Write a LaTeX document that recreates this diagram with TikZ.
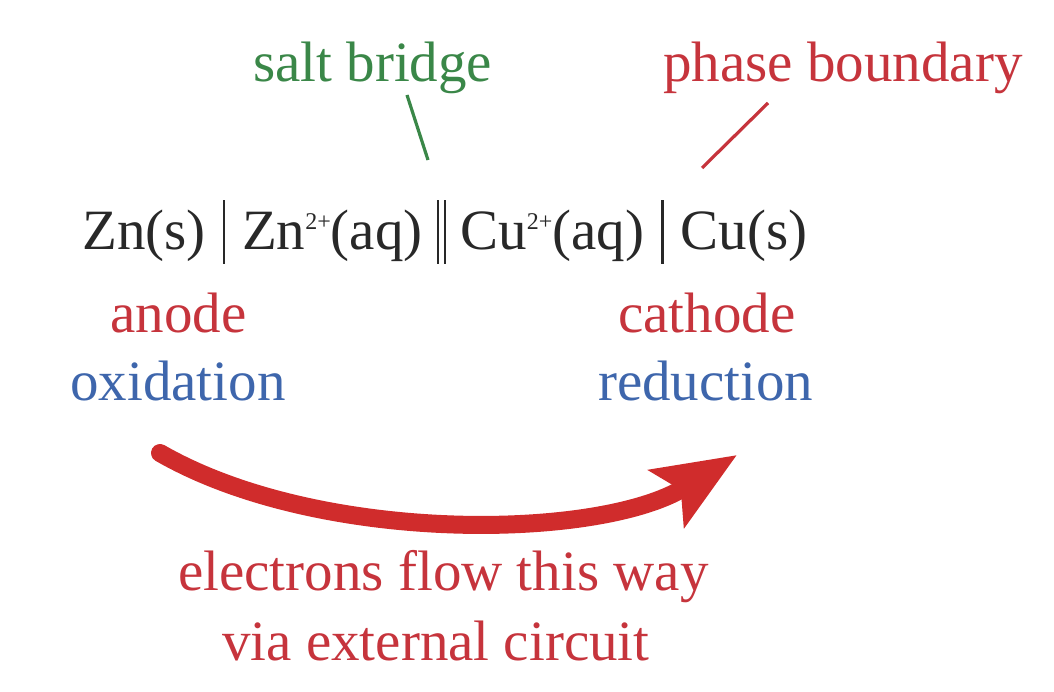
\documentclass[tikz,border=0pt]{standalone}
\usepackage{fontspec}
\setmainfont{Liberation Serif}
\usetikzlibrary{arrows.meta}
\definecolor{tred}{RGB}{198,52,60}
\definecolor{tgreen}{RGB}{58,135,72}
\definecolor{tblue}{RGB}{62,102,172}
\definecolor{ared}{RGB}{208,44,44}
\definecolor{tblack}{RGB}{40,40,40}
\newcommand{\sptwo}{\raisebox{0.36em}{\fontsize{24}{24}\selectfont 2+}}
\newcommand{\pbar}{\hspace{17pt}\rule[-0.24em]{2.4pt}{1.12em}\hspace{17pt}}
\newcommand{\dbar}{\hspace{14pt}\rule[-0.24em]{2.4pt}{1.12em}\hspace{5pt}\rule[-0.24em]{2.4pt}{1.12em}\hspace{14pt}}
\tikzset{
  lbl/.style={anchor=base west, inner sep=0pt, font=\fontsize{57}{68}\selectfont},
  pointer/.style={line width=3.2pt},
  flow/.style={ared, line width=18pt, line cap=round, -{Stealth[length=82pt,width=66pt,inset=16pt]}}
}
\begin{document}
\begin{tikzpicture}[x=1pt,y=-1pt]
\useasboundingbox (0,0) rectangle (1054,692);
\node[lbl, tgreen] (sb) at (253,82) {salt bridge};
\node[lbl, tred] (pb) at (663,82) {phase boundary};
\node[lbl, tblack] (eq) at (82,250) {Zn(s)\pbar Zn\sptwo(aq)\dbar Cu\sptwo(aq)\pbar Cu(s)};
\node[lbl, tred] (an) at (110,332) {anode};
\node[lbl, tblue] (ox) at (70,400) {oxidation};
\node[lbl, tred] (ca) at (618,332) {cathode};
\node[lbl, tblue] (re) at (598,400) {reduction};
\node[lbl, tred] (el) at (178,590) {electrons flow this way};
\node[lbl, tred] (vi) at (222,660) {via external circuit};
\coordinate (sbA) at (407,95);
\coordinate (sbB) at (428,160);
\coordinate (pbA) at (768,103);
\coordinate (pbB) at (702,168);
\coordinate (fs) at (160,453);
\coordinate (fe) at (737,455);
\draw[pointer, tgreen] (sbA) -- (sbB);
\draw[pointer, tred] (pbA) -- (pbB);
\draw[flow] (fs) .. controls (320,545) and (600,540) .. (fe);
\end{tikzpicture}
\end{document}
